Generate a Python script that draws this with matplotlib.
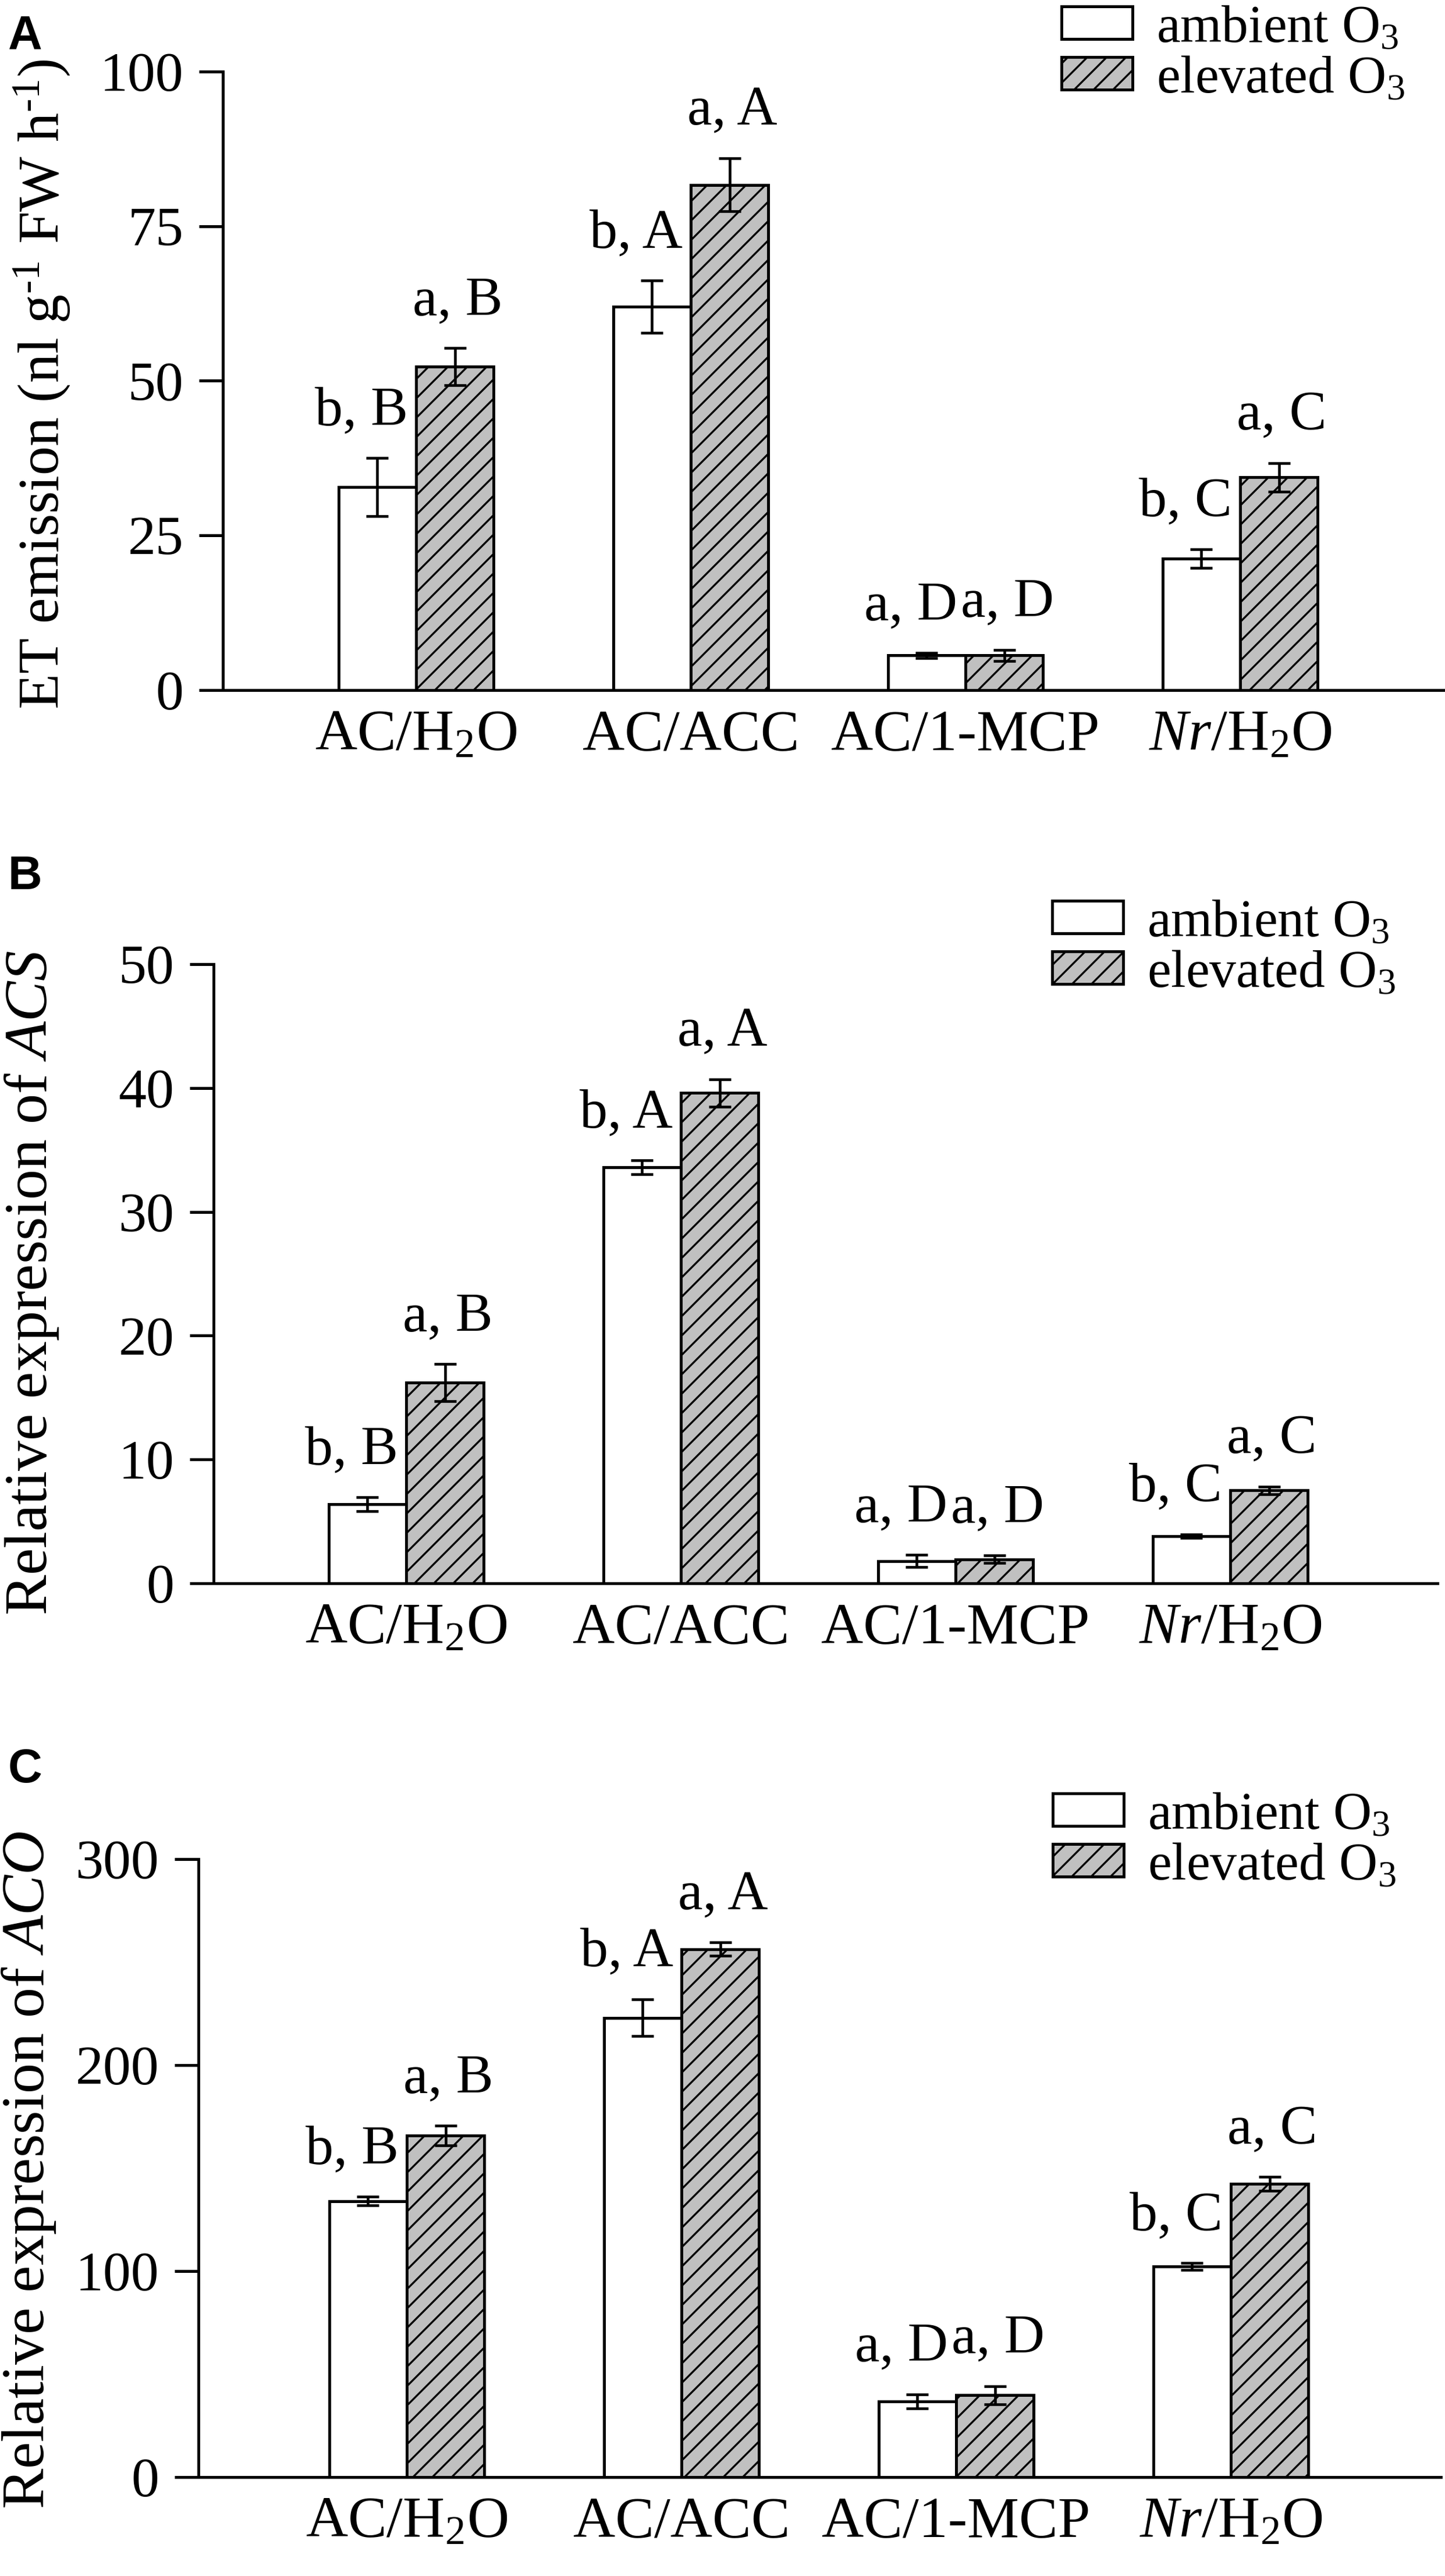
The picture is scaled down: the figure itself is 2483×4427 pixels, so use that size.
import matplotlib
matplotlib.use('Agg')
import matplotlib.pyplot as plt
import numpy as np

plt.rcParams['font.family'] = ['Liberation Serif', 'DejaVu Serif']
plt.rcParams['mathtext.fontset'] = 'custom'
plt.rcParams['mathtext.rm'] = 'Liberation Serif'
plt.rcParams['mathtext.it'] = 'Liberation Serif:italic'
plt.rcParams['mathtext.bf'] = 'Liberation Serif:bold'
plt.rcParams['hatch.linewidth'] = 0.8
plt.rcParams['hatch.color'] = 'black'

# data
groups = ['AC/H$_2$O', 'AC/ACC', 'AC/1-MCP', '$\\mathit{Nr}$/H$_2$O']
series = ['ambient O$_3$', 'elevated O$_3$']

et_amb = [32.8, 62.0, 5.6, 21.3]
et_amb_err = [4.7, 4.2, 0.4, 1.5]
et_elev = [52.3, 81.7, 5.6, 34.4]
et_elev_err = [3.0, 4.3, 0.9, 2.3]
et_amb_lab = ['b, B', 'b, A', 'a, D', 'b, C']
et_elev_lab = ['a, B', 'a, A', 'a, D', 'a, C']

acs_amb = [6.4, 33.6, 1.8, 3.8]
acs_amb_err = [0.55, 0.55, 0.5, 0.15]
acs_elev = [16.2, 39.6, 1.95, 7.5]
acs_elev_err = [1.5, 1.1, 0.3, 0.3]
acs_amb_lab = ['b, B', 'b, A', 'a, D', 'b, C']
acs_elev_lab = ['a, B', 'a, A', 'a, D', 'a, C']

aco_amb = [134.0, 223.0, 36.7, 102.2]
aco_amb_err = [2.1, 9.0, 3.5, 1.7]
aco_elev = [165.8, 256.3, 39.7, 142.4]
aco_elev_err = [4.8, 3.2, 4.5, 3.3]
aco_amb_lab = ['b, B', 'b, A', 'a, D', 'b, C']
aco_elev_lab = ['a, B', 'a, A', 'a, D', 'a, C']

W, H = 2483, 4427
fig = plt.figure(figsize=(W / 300, H / 300), dpi=300)

panels = [
    dict(letter='A', amb=et_amb, amb_err=et_amb_err, elev=et_elev, elev_err=et_elev_err,
         amb_lab=et_amb_lab, elev_lab=et_elev_lab, ymax=100, yticks=[0, 25, 50, 75, 100],
         ylabel='ET emission (nl g$^{\\text{-1}}$ FW h$^{\\text{-1}}$)', ylab_size=24,
         left=383, right=2483, top=123, bottom=1186, c0=715,
         lab_x=72, lab_y=660, letter_y=83, leg=(1824, 8)),
    dict(letter='B', amb=acs_amb, amb_err=acs_amb_err, elev=acs_elev, elev_err=acs_elev_err,
         amb_lab=acs_amb_lab, elev_lab=acs_elev_lab, ymax=50, yticks=[0, 10, 20, 30, 40, 50],
         ylabel='Relative expression of $\\mathit{ACS}$', ylab_size=25,
         left=367, right=2470, top=1657, bottom=2721, c0=698,
         lab_x=55, lab_y=2205, letter_y=1528, leg=(1808, 1545)),
    dict(letter='C', amb=aco_amb, amb_err=aco_amb_err, elev=aco_elev, elev_err=aco_elev_err,
         amb_lab=aco_amb_lab, elev_lab=aco_elev_lab, ymax=300, yticks=[0, 100, 200, 300],
         ylabel='Relative expression of $\\mathit{ACO}$', ylab_size=25,
         left=341, right=2476, top=3195, bottom=4257, c0=699,
         lab_x=50, lab_y=3730, letter_y=3063, leg=(1809, 3079)),
]

spacing = 472
bw = 0.282
x = np.arange(len(groups))

for p in panels:
    rect = [p['left'] / W, 1 - p['bottom'] / H,
            (p['right'] - p['left']) / W, (p['bottom'] - p['top']) / H]
    ax = fig.add_axes(rect)
    ekw = dict(elinewidth=1.1, capsize=4.5, capthick=1.1, ecolor='black')
    ax.bar(x - bw / 2, p['amb'], bw, yerr=p['amb_err'], color='white',
           edgecolor='black', linewidth=1.2, error_kw=ekw, label=series[0])
    ax.bar(x + bw / 2, p['elev'], bw, yerr=p['elev_err'], color='#c0c0c0',
           edgecolor='black', linewidth=1.2, hatch='///', error_kw=ekw, label=series[1])

    for i in range(len(groups)):
        ax.annotate(p['amb_lab'][i], xy=(x[i] - bw / 2, p['amb'][i] + p['amb_err'][i]),
                    xytext=(-6.5, 13.7), textcoords='offset points',
                    ha='center', va='baseline', fontsize=23)
        ax.annotate(p['elev_lab'][i], xy=(x[i] + bw / 2, p['elev'][i] + p['elev_err'][i]),
                    xytext=(1.2, 13.7), textcoords='offset points',
                    ha='center', va='baseline', fontsize=23)

    ax.set_xlim((p['left'] - p['c0']) / spacing, (p['right'] - p['c0']) / spacing)
    ax.set_ylim(0, p['ymax'])
    ax.set_yticks(p['yticks'])
    ax.set_xticks(x)
    ax.set_xticklabels(groups)
    ax.tick_params(axis='y', length=9.8, width=1.2, pad=6.5, labelsize=23)
    ax.tick_params(axis='x', length=0, pad=8, labelsize=24)
    for s in ['top', 'right']:
        ax.spines[s].set_visible(False)
    for s in ['left', 'bottom']:
        ax.spines[s].set_linewidth(1.2)
    ax.patch.set_alpha(0)

    fig.text(p['lab_x'] / W, 1 - p['lab_y'] / H, p['ylabel'], rotation=90,
             ha='center', va='center', fontsize=p['ylab_size'])
    fig.text(14 / W, 1 - p['letter_y'] / H, p['letter'], family='Liberation Sans',
             fontweight='bold', fontsize=19.5, ha='left', va='baseline')

    lx, ly = p['leg']
    ax.legend(loc='upper left', bbox_to_anchor=(lx / W, 1 - ly / H),
              bbox_transform=fig.transFigure, frameon=False, fontsize=22,
              handlelength=1.33, handleheight=0.57, handletextpad=0.45,
              labelspacing=0.05, borderpad=0, borderaxespad=0)

fig.savefig('out.png', dpi=300)
